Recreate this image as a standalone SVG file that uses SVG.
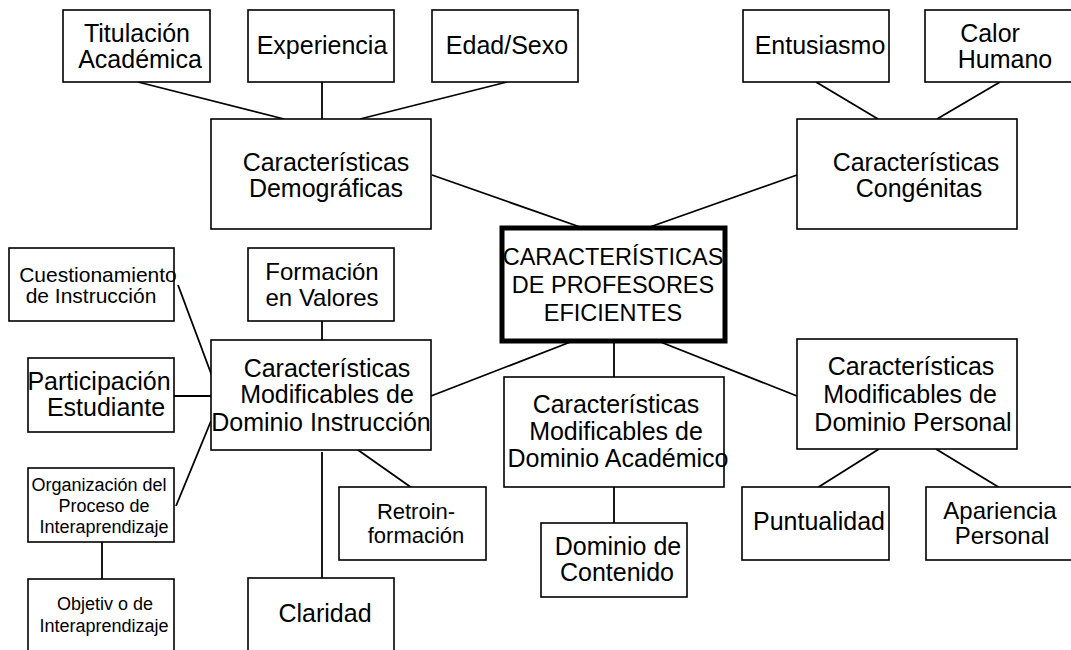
<svg xmlns="http://www.w3.org/2000/svg" width="1071" height="650" viewBox="0 0 1071 650">
<style>
.box{fill:#fff;stroke:#000;stroke-width:1.6}
.main{fill:#fff;stroke:#000;stroke-width:5}
.t{font-family:"Liberation Sans",Arial,sans-serif;font-size:25px;text-anchor:middle;fill:#000}
.s21{font-size:21px}
.s18{font-size:18px}
.s22{font-size:22px}
.s23{font-size:23.5px}
.s24{font-size:24px}
.link{stroke:#000;stroke-width:1.8;fill:none}
</style>
<rect width="1071" height="650" fill="#fff"/>
<g id="connectors" class="link">
<line x1="138" y1="82" x2="284" y2="119"/>
<line x1="322" y1="82" x2="322" y2="119"/>
<line x1="507" y1="82" x2="360" y2="119"/>
<line x1="816" y1="82" x2="878" y2="119"/>
<line x1="1000" y1="82" x2="937" y2="119"/>
<line x1="432" y1="175" x2="583" y2="228"/>
<line x1="797" y1="175" x2="647" y2="228"/>
<line x1="431" y1="396" x2="573" y2="341"/>
<line x1="614" y1="341" x2="614" y2="377"/>
<line x1="658" y1="341" x2="797" y2="396"/>
<line x1="178" y1="285" x2="212" y2="376"/>
<line x1="174" y1="396" x2="211" y2="396"/>
<line x1="176" y1="506" x2="211" y2="421"/>
<line x1="102" y1="542" x2="102" y2="579"/>
<line x1="322" y1="321" x2="322" y2="340"/>
<line x1="322" y1="452" x2="322" y2="579"/>
<line x1="358" y1="450" x2="412" y2="488"/>
<line x1="614" y1="487" x2="614" y2="523"/>
<line x1="879" y1="449" x2="817" y2="488"/>
<line x1="936" y1="449" x2="1000" y2="488"/>
</g>
<g id="titulacion"><rect class="box" x="63" y="10" width="147" height="72"/><text class="t" x="137" y="42">Titulación</text><text class="t" x="140" y="68">Académica</text></g>
<g id="experiencia"><rect class="box" x="248" y="10" width="146" height="72"/><text class="t" x="322" y="54">Experiencia</text></g>
<g id="edad"><rect class="box" x="432" y="10" width="146" height="72"/><text class="t" x="507" y="54">Edad/Sexo</text></g>
<g id="demograficas"><rect class="box" x="211" y="119" width="220" height="110"/><text class="t" x="326" y="171">Características</text><text class="t" x="326" y="197">Demográficas</text></g>
<g id="entusiasmo"><rect class="box" x="743" y="10" width="146" height="72"/><text class="t" x="820" y="54">Entusiasmo</text></g>
<g id="calor"><rect class="box" x="925" y="10" width="149" height="72"/><text class="t" x="990" y="42">Calor</text><text class="t" x="1005" y="68">Humano</text></g>
<g id="congenitas"><rect class="box" x="797" y="119" width="220" height="110"/><text class="t" x="916" y="171">Características</text><text class="t" x="919" y="197">Congénitas</text></g>
<g id="central"><rect class="main" x="502" y="228" width="223" height="113"/><text class="t s23" x="613" y="265">CARACTERÍSTICAS</text><text class="t s23" x="613" y="293">DE PROFESORES</text><text class="t s23" x="613" y="321">EFICIENTES</text></g>
<g id="cuestionamiento"><rect class="box" x="9" y="248" width="165" height="73"/><text class="t s21" x="98" y="282">Cuestionamiento</text><text class="t s21" x="91" y="303">de Instrucción</text></g>
<g id="formacion"><rect class="box" x="248" y="248" width="146" height="73"/><text class="t s24" x="322" y="280">Formación</text><text class="t s24" x="322" y="306">en Valores</text></g>
<g id="instruccion"><rect class="box" x="211" y="340" width="220" height="110"/><text class="t" x="327" y="377">Características</text><text class="t" x="327" y="403">Modificables de</text><text class="t" x="321" y="431">Dominio Instrucción</text></g>
<g id="participacion"><rect class="box" x="28" y="358" width="146" height="74"/><text class="t" x="99" y="390">Participación</text><text class="t" x="106" y="416">Estudiante</text></g>
<g id="organizacion"><rect class="box" x="28" y="468" width="146" height="74"/><text class="t s18" x="99" y="491">Organización del</text><text class="t s18" x="104" y="512">Proceso de</text><text class="t s18" x="104" y="533">Interaprendizaje</text></g>
<g id="objetivo"><rect class="box" x="28" y="579" width="146" height="80"/><text class="t s18" x="105" y="610">Objetiv o de</text><text class="t s18" x="104" y="632">Interaprendizaje</text></g>
<g id="claridad"><rect class="box" x="248" y="578" width="146" height="80"/><text class="t" x="325" y="622">Claridad</text></g>
<g id="retroinformacion"><rect class="box" x="339" y="487" width="147" height="73"/><text class="t s22" x="416" y="519">Retroin-</text><text class="t s22" x="416" y="543">formación</text></g>
<g id="academico"><rect class="box" x="504" y="377" width="220" height="110"/><text class="t" x="616" y="413">Características</text><text class="t" x="616" y="440">Modificables de</text><text class="t" x="618" y="467">Dominio Académico</text></g>
<g id="contenido"><rect class="box" x="541" y="523" width="146" height="74"/><text class="t" x="618" y="555">Dominio de</text><text class="t" x="617" y="581">Contenido</text></g>
<g id="personal"><rect class="box" x="797" y="339" width="220" height="110"/><text class="t" x="911" y="375">Características</text><text class="t" x="910" y="403">Modificables de</text><text class="t" x="913" y="431">Dominio Personal</text></g>
<g id="puntualidad"><rect class="box" x="742" y="487" width="147" height="73"/><text class="t" x="819" y="530">Puntualidad</text></g>
<g id="apariencia"><rect class="box" x="926" y="487" width="148" height="73"/><text class="t s24" x="1000" y="519">Apariencia</text><text class="t s24" x="1002" y="544">Personal</text></g>
</svg>
